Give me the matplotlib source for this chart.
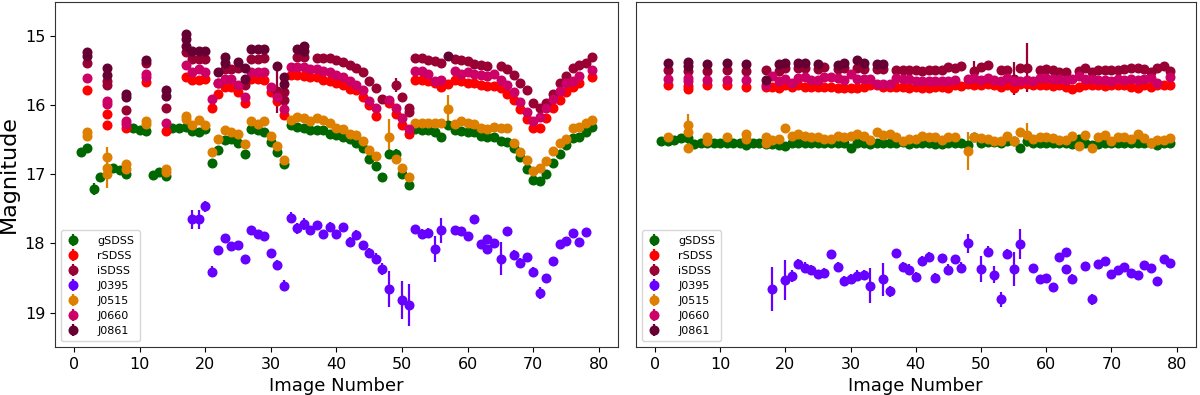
#!/usr/bin/env python3
"""Light curves of one star in seven filters, two fields side by side."""

import matplotlib
matplotlib.use("Agg")
import matplotlib.pyplot as plt

FILTERS = ["gSDSS", "rSDSS", "iSDSS", "J0395", "J0515", "J0660", "J0861"]
COLORS = ["#006600", "#ff0000", "#990033", "#6600ff", "#dd8000", "#cc0066", "#660033"]

# ---------------- left panel ----------------
L_G_X = [1, 2, 3, 4, 6, 7, 8, 9, 10, 11, 12, 13, 14, 15, 16, 17, 18, 19, 20, 21, 22, 23, 24, 25, 26, 27, 28, 29,
         30, 31, 32, 33, 34, 35, 36, 37, 38, 39, 40, 41, 42, 43, 44, 45, 46, 47, 48, 49, 50, 51, 52, 53, 54, 55,
         56, 57, 58, 59, 60, 61, 62, 63, 64, 65, 66, 67, 68, 69, 70, 71, 72, 73, 74, 75, 76, 77, 78, 79]
L_G_Y = [16.67, 16.61, 17.21, 17.03, 16.91, 16.94, 16.99, 16.33, 16.36, 16.37, 17.01, 16.97, 17.02, 16.33, 16.32,
         16.31, 16.37, 16.38, 16.34, 16.84, 16.64, 16.50, 16.48, 16.55, 16.70, 16.34, 16.36, 16.38, 16.53, 16.68,
         16.85, 16.29, 16.31, 16.32, 16.35, 16.35, 16.36, 16.41, 16.43, 16.46, 16.49, 16.55, 16.61, 16.78, 16.88,
         17.04, 16.70, 16.70, 17.00, 17.15, 16.34, 16.36, 16.36, 16.38, 16.46, 16.29, 16.36, 16.37, 16.38, 16.38,
         16.44, 16.46, 16.45, 16.52, 16.53, 16.61, 16.75, 16.92, 17.08, 17.09, 17.00, 16.83, 16.71, 16.57, 16.47,
         16.45, 16.38, 16.31]
L_G_BIG = {(3, 17.21): 0.09, (4, 17.03): 0.04, (49, 16.70): 0.07, (56, 16.46): 0.04, (57, 16.29): 0.04}

L_R_X = [2, 5, 5, 8, 11, 14, 17, 18, 19, 20, 21, 22, 23, 24, 25, 26, 27, 28, 29, 30, 31, 32, 33, 34, 35, 36, 37,
         38, 39, 40, 41, 42, 43, 44, 45, 46, 48, 49, 50, 51, 52, 53, 54, 55, 56, 57, 58, 59, 60, 61, 62, 63, 64,
         65, 66, 67, 68, 69, 70, 71, 72, 73, 74, 75, 76, 77, 79]
L_R_Y = [15.78, 16.13, 16.28, 16.32, 15.66, 16.37, 15.58, 15.63, 15.63, 15.62, 16.03, 15.84, 15.73, 15.73, 15.81,
         15.97, 15.62, 15.62, 15.63, 15.80, 15.93, 16.14, 15.56, 15.56, 15.57, 15.58, 15.59, 15.63, 15.64, 15.67,
         15.71, 15.76, 15.78, 15.88, 16.00, 16.15, 15.97, 16.12, 16.29, 16.42, 15.63, 15.63, 15.64, 15.68, 15.73,
         15.69, 15.63, 15.64, 15.67, 15.68, 15.70, 15.72, 15.72, 15.75, 15.84, 15.92, 16.05, 16.20, 16.33, 16.32,
         16.18, 16.04, 15.92, 15.80, 15.73, 15.67, 15.59]
L_R_BIG = {(31, 15.93): 0.05}

L_I_X = [2, 5, 5, 8, 11, 14, 17, 18, 19, 20, 22, 23, 24, 25, 26, 27, 28, 29, 31, 32, 32, 34, 35, 37, 38, 39, 40,
         41, 42, 43, 44, 45, 46, 47, 49, 50, 51, 51, 52, 53, 54, 55, 56, 58, 59, 60, 61, 62, 63, 65, 66, 67, 68,
         69, 70, 71, 72, 73, 74, 75, 76, 77, 78, 79]
L_I_Y = [15.39, 15.65, 15.71, 16.06, 15.39, 16.03, 15.23, 15.33, 15.32, 15.32, 15.67, 15.47, 15.47, 15.45, 15.71,
         15.32, 15.32, 15.31, 15.79, 15.81, 15.92, 15.30, 15.30, 15.31, 15.31, 15.31, 15.34, 15.37, 15.41, 15.45,
         15.52, 15.64, 15.75, 15.90, 15.70, 15.87, 16.04, 16.09, 15.31, 15.31, 15.34, 15.35, 15.39, 15.33, 15.34,
         15.36, 15.40, 15.41, 15.43, 15.43, 15.47, 15.56, 15.67, 15.78, 15.96, 16.03, 15.97, 15.84, 15.68, 15.57,
         15.45, 15.42, 15.38, 15.30]
L_I_BIG = {(31, 15.79): 0.32, (49, 15.70): 0.10, (17, 15.23): 0.03}

L_V_X = [18, 19, 20, 21, 22, 23, 24, 25, 26, 27, 28, 29, 30, 31, 32, 33, 34, 35, 36, 37, 38, 39, 40, 41, 42, 43,
         44, 45, 46, 47, 48, 50, 51, 52, 53, 54, 55, 56, 58, 59, 60, 61, 62, 63, 63, 64, 65, 66, 67, 68, 69, 70,
         71, 72, 73, 74, 75, 76, 77, 78]
L_V_Y = [17.65, 17.65, 17.46, 18.41, 18.10, 17.92, 18.03, 18.02, 18.22, 17.80, 17.86, 17.89, 18.14, 18.31, 18.61,
         17.63, 17.78, 17.72, 17.81, 17.73, 17.86, 17.76, 17.86, 17.76, 17.98, 17.87, 18.02, 18.14, 18.22, 18.37,
         18.66, 18.82, 18.89, 17.79, 17.86, 17.85, 18.08, 17.81, 17.80, 17.82, 17.89, 17.64, 18.01, 17.94, 18.08,
         18.00, 18.22, 17.82, 18.17, 18.28, 18.20, 18.41, 18.72, 18.50, 18.26, 18.01, 17.96, 17.85, 17.98, 17.83]
L_V_E = [0.14, 0.14, 0.08, 0.08, 0.06, 0.05, 0.04, 0.05, 0.05, 0.05, 0.05, 0.06, 0.05, 0.07, 0.08, 0.08, 0.08,
         0.09, 0.06, 0.06, 0.06, 0.07, 0.06, 0.06, 0.07, 0.07, 0.06, 0.07, 0.08, 0.09, 0.26, 0.28, 0.30, 0.06,
         0.07, 0.07, 0.19, 0.18, 0.04, 0.04, 0.04, 0.04, 0.05, 0.05, 0.05, 0.05, 0.24, 0.05, 0.07, 0.07, 0.06,
         0.07, 0.09, 0.06, 0.05, 0.04, 0.04, 0.04, 0.05, 0.04]

L_O_X = [2, 2, 5, 5, 5, 8, 8, 11, 11, 14, 14, 17, 17, 18, 19, 20, 21, 22, 23, 24, 25, 26, 27, 28, 29, 30, 31, 32,
         33, 34, 35, 36, 37, 38, 39, 40, 41, 42, 43, 44, 45, 46, 48, 49, 50, 51, 52, 53, 54, 55, 56, 57, 58, 59,
         60, 61, 62, 63, 64, 65, 66, 67, 68, 69, 70, 71, 72, 73, 74, 75, 76, 77, 78, 79]
L_O_Y = [16.39, 16.44, 16.74, 16.90, 16.99, 16.85, 16.92, 16.22, 16.27, 16.92, 16.96, 16.15, 16.20, 16.28, 16.21,
         16.29, 16.68, 16.49, 16.36, 16.39, 16.41, 16.56, 16.22, 16.27, 16.23, 16.44, 16.58, 16.79, 16.21, 16.17,
         16.18, 16.22, 16.18, 16.21, 16.25, 16.32, 16.34, 16.41, 16.43, 16.51, 16.65, 16.73, 16.46, 16.78, 16.90,
         17.04, 16.25, 16.25, 16.25, 16.25, 16.25, 16.05, 16.27, 16.23, 16.26, 16.27, 16.33, 16.34, 16.31, 16.33,
         16.33, 16.54, 16.68, 16.79, 16.95, 16.91, 16.80, 16.66, 16.55, 16.49, 16.33, 16.31, 16.26, 16.21]
L_O_BIG = {(5, 16.90): 0.30, (48, 16.46): 0.27, (57, 16.05): 0.20, (19, 16.21): 0.05,
           (53, 16.25): 0.03, (55, 16.25): 0.04, (56, 16.25): 0.04}

L_P_X = [2, 5, 5, 8, 8, 11, 11, 14, 17, 18, 19, 20, 21, 22, 23, 24, 25, 26, 27, 28, 29, 30, 31, 32, 33, 34, 35,
         36, 37, 38, 39, 40, 41, 42, 43, 44, 45, 46, 48, 49, 50, 51, 52, 53, 54, 55, 56, 58, 59, 60, 61, 62, 63,
         64, 65, 66, 67, 68, 69, 70, 71, 72, 73, 74, 75, 76, 77, 79]
L_P_Y = [15.60, 15.93, 15.98, 16.22, 16.27, 15.54, 15.58, 16.26, 15.42, 15.52, 15.47, 15.52, 15.90, 15.68, 15.62,
         15.62, 15.70, 15.88, 15.52, 15.51, 15.51, 15.73, 15.88, 16.05, 15.44, 15.44, 15.44, 15.47, 15.47, 15.50,
         15.51, 15.56, 15.59, 15.64, 15.70, 15.78, 15.94, 16.03, 15.92, 16.04, 16.18, 16.34, 15.50, 15.50, 15.54,
         15.64, 15.63, 15.50, 15.54, 15.51, 15.54, 15.56, 15.57, 15.55, 15.63, 15.70, 15.80, 15.95, 16.10, 16.23,
         16.17, 16.04, 15.91, 15.79, 15.68, 15.64, 15.57, 15.48]
L_P_BIG = {(30, 15.73): 0.04, (56, 15.63): 0.05, (5, 15.93): 0.03}

L_K_X = [2, 2, 5, 5, 8, 8, 11, 14, 14, 17, 17, 17, 18, 19, 20, 22, 23, 23, 25, 26, 26, 27, 28, 29, 31, 32, 32,
         34, 35, 35, 57]
L_K_Y = [15.23, 15.28, 15.45, 15.56, 15.84, 15.88, 15.34, 15.78, 15.86, 14.97, 15.04, 15.14, 15.21, 15.21, 15.21,
         15.51, 15.30, 15.38, 15.37, 15.46, 15.62, 15.18, 15.18, 15.18, 15.43, 15.58, 15.69, 15.18, 15.14, 15.21,
         15.29]
L_K_BIG = {(17, 14.97): 0.05, (57, 15.29): 0.03}

# ---------------- right panel ----------------
R_G_X = list(range(1, 80))
R_G_Y = [16.52, 16.52, 16.50, 16.47, 16.47, 16.56, 16.54, 16.54, 16.54, 16.54, 16.54, 16.54, 16.54, 16.57, 16.55,
         16.55, 16.56, 16.56, 16.57, 16.58, 16.54, 16.54, 16.54, 16.54, 16.55, 16.55, 16.55, 16.54, 16.54, 16.62,
         16.54, 16.54, 16.56, 16.55, 16.54, 16.55, 16.54, 16.53, 16.56, 16.55, 16.55, 16.55, 16.56, 16.56, 16.55,
         16.55, 16.55, 16.57, 16.46, 16.54, 16.53, 16.53, 16.54, 16.51, 16.51, 16.61, 16.52, 16.54, 16.54, 16.54,
         16.54, 16.55, 16.55, 16.56, 16.49, 16.55, 16.57, 16.56, 16.55, 16.55, 16.55, 16.54, 16.54, 16.55, 16.54,
         16.54, 16.57, 16.55, 16.54]
R_G_BIG = {(3, 16.50): 0.04, (4, 16.47): 0.02, (48, 16.57): 0.03, (49, 16.46): 0.04, (56, 16.61): 0.04,
           (77, 16.57): 0.03}

R_R_X = [2, 5, 5, 8, 11, 14, 17] + list(range(18, 80))
R_R_Y = [15.71, 15.72, 15.76, 15.71, 15.71, 15.73, 15.73, 15.73, 15.75, 15.71, 15.73, 15.71, 15.73, 15.73, 15.73,
         15.73, 15.73, 15.75, 15.75, 15.75, 15.74, 15.73, 15.71, 15.71, 15.73, 15.73, 15.73, 15.73, 15.74, 15.73,
         15.75, 15.75, 15.73, 15.73, 15.75, 15.71, 15.72, 15.69, 15.71, 15.71, 15.69, 15.70, 15.73, 15.71, 15.75,
         15.69, 15.69, 15.70, 15.70, 15.71, 15.72, 15.71, 15.73, 15.76, 15.73, 15.71, 15.71, 15.71, 15.72, 15.71,
         15.71, 15.71, 15.73, 15.75, 15.71, 15.73, 15.71, 15.71, 15.71]
R_R_BIG = {(5, 15.76): 0.05, (55, 15.75): 0.04, (19, 15.75): 0.03}

R_I_X = [2, 5, 8, 11, 14, 17, 19, 20, 22, 23, 25, 26, 28, 29, 31, 32, 34, 35, 37, 38, 39, 40, 41, 42, 43, 44, 45,
         46, 47, 49, 50, 51, 53, 54, 55, 56, 57, 59, 60, 61, 62, 63, 65, 66, 67, 68, 69, 70, 71, 72, 73, 74, 75,
         76, 77, 78, 79]
R_I_Y = [15.48, 15.50, 15.50, 15.49, 15.50, 15.49, 15.50, 15.45, 15.45, 15.45, 15.47, 15.44, 15.47, 15.45, 15.45,
         15.47, 15.47, 15.47, 15.48, 15.48, 15.48, 15.48, 15.50, 15.48, 15.48, 15.48, 15.44, 15.46, 15.43, 15.50,
         15.44, 15.42, 15.48, 15.48, 15.61, 15.46, 15.45, 15.48, 15.47, 15.48, 15.51, 15.51, 15.50, 15.46, 15.51,
         15.48, 15.48, 15.48, 15.48, 15.47, 15.46, 15.45, 15.47, 15.51, 15.46, 15.43, 15.50]
R_I_BIG = {(49, 15.50): 0.14, (55, 15.61): 0.24, (57, 15.45): 0.36}

R_V_X = [18, 20, 21, 22, 23, 24, 25, 26, 27, 28, 29, 30, 31, 32, 33, 35, 36, 37, 38, 39, 40, 41, 42, 43, 44, 45,
         46, 47, 48, 50, 51, 52, 53, 54, 55, 56, 58, 59, 60, 61, 62, 63, 63, 64, 66, 67, 68, 69, 70, 71, 72, 73,
         74, 75, 76, 77, 78, 79]
R_V_Y = [18.66, 18.53, 18.47, 18.29, 18.35, 18.38, 18.44, 18.43, 18.15, 18.34, 18.54, 18.51, 18.47, 18.46, 18.61,
         18.52, 18.69, 18.14, 18.34, 18.38, 18.48, 18.25, 18.20, 18.50, 18.21, 18.38, 18.23, 18.35, 18.00, 18.37,
         18.12, 18.45, 18.81, 18.15, 18.37, 18.01, 18.36, 18.51, 18.50, 18.63, 18.20, 18.12, 18.37, 18.51, 18.32,
         18.81, 18.29, 18.25, 18.44, 18.38, 18.34, 18.43, 18.46, 18.31, 18.36, 18.55, 18.23, 18.28]
R_V_E = [0.32, 0.29, 0.09, 0.07, 0.08, 0.07, 0.06, 0.07, 0.06, 0.07, 0.07, 0.07, 0.08, 0.07, 0.25, 0.24, 0.08,
         0.06, 0.07, 0.08, 0.07, 0.07, 0.07, 0.07, 0.06, 0.08, 0.07, 0.08, 0.14, 0.19, 0.08, 0.12, 0.11, 0.07,
         0.25, 0.22, 0.05, 0.06, 0.06, 0.06, 0.05, 0.04, 0.06, 0.07, 0.05, 0.08, 0.04, 0.04, 0.05, 0.04, 0.05,
         0.05, 0.05, 0.04, 0.04, 0.05, 0.05, 0.04]

R_O_X = [2, 5, 5, 5, 8, 8, 11, 14, 14, 17, 17, 18, 19, 20, 21, 22, 23, 24, 25, 26, 27, 28, 29, 30, 31, 32, 33, 34,
         35, 36, 37, 38, 39, 40, 41, 42, 43, 44, 45, 46, 48, 49, 50, 51, 52, 53, 54, 55, 56, 57, 58, 59, 60, 61,
         62, 63, 64, 65, 66, 67, 68, 69, 70, 71, 72, 73, 74, 75, 76, 77, 78, 79]
R_O_Y = [16.45, 16.28, 16.38, 16.62, 16.45, 16.51, 16.45, 16.42, 16.49, 16.45, 16.54, 16.50, 16.48, 16.32, 16.44,
         16.42, 16.44, 16.45, 16.46, 16.49, 16.48, 16.44, 16.45, 16.44, 16.42, 16.44, 16.50, 16.38, 16.43, 16.42,
         16.45, 16.51, 16.48, 16.49, 16.44, 16.46, 16.45, 16.50, 16.45, 16.45, 16.66, 16.46, 16.47, 16.48, 16.51,
         16.51, 16.44, 16.51, 16.39, 16.43, 16.49, 16.46, 16.46, 16.47, 16.50, 16.50, 16.44, 16.58, 16.43, 16.62,
         16.46, 16.43, 16.51, 16.46, 16.46, 16.49, 16.42, 16.47, 16.55, 16.50, 16.50, 16.47]
R_O_BIG = {(5, 16.38): 0.25, (48, 16.66): 0.27, (57, 16.43): 0.17, (55, 16.51): 0.05}

R_P_X = [2, 5, 5, 8, 11, 14, 17, 18, 19, 20, 21, 22, 23, 24, 25, 26, 27, 28, 29, 30, 31, 32, 33, 34, 35, 36, 37,
         38, 39, 40, 41, 42, 43, 44, 45, 46, 48, 49, 50, 51, 52, 53, 54, 55, 56, 57, 58, 59, 60, 61, 62, 63, 64,
         65, 66, 67, 68, 69, 70, 71, 72, 73, 74, 75, 76, 77, 79]
R_P_Y = [15.62, 15.60, 15.64, 15.63, 15.63, 15.63, 15.70, 15.57, 15.64, 15.62, 15.67, 15.60, 15.59, 15.63, 15.63,
         15.59, 15.59, 15.60, 15.63, 15.54, 15.62, 15.62, 15.62, 15.69, 15.69, 15.69, 15.60, 15.62, 15.62, 15.64,
         15.64, 15.65, 15.64, 15.64, 15.64, 15.63, 15.62, 15.60, 15.63, 15.60, 15.63, 15.64, 15.60, 15.64, 15.65,
         15.63, 15.65, 15.60, 15.60, 15.61, 15.62, 15.63, 15.62, 15.57, 15.61, 15.62, 15.63, 15.63, 15.64, 15.61,
         15.63, 15.61, 15.63, 15.61, 15.60, 15.67, 15.59]
R_P_BIG = {}

R_K_X = [2, 5, 5, 8, 11, 14, 17, 19, 20, 22, 23, 25, 28, 29, 31, 32, 34, 35]
R_K_Y = [15.39, 15.37, 15.43, 15.40, 15.39, 15.40, 15.63, 15.40, 15.38, 15.38, 15.38, 15.40, 15.41, 15.38, 15.34,
         15.38, 15.40, 15.40]
R_K_BIG = {(31, 15.34): 0.04}

SMALL_ERR = 0.012

LEFT = [
    (L_G_X, L_G_Y, L_G_BIG),
    (L_R_X, L_R_Y, L_R_BIG),
    (L_I_X, L_I_Y, L_I_BIG),
    (L_V_X, L_V_Y, L_V_E),
    (L_O_X, L_O_Y, L_O_BIG),
    (L_P_X, L_P_Y, L_P_BIG),
    (L_K_X, L_K_Y, L_K_BIG),
]
RIGHT = [
    (R_G_X, R_G_Y, R_G_BIG),
    (R_R_X, R_R_Y, R_R_BIG),
    (R_I_X, R_I_Y, R_I_BIG),
    (R_V_X, R_V_Y, R_V_E),
    (R_O_X, R_O_Y, R_O_BIG),
    (R_P_X, R_P_Y, R_P_BIG),
    (R_K_X, R_K_Y, R_K_BIG),
]


def errors(xs, ys, err):
    if isinstance(err, list):
        return err
    return [err.get((x, y), SMALL_ERR) for x, y in zip(xs, ys)]


def draw_panel(ax, series):
    for (xs, ys, err), name, color in zip(series, FILTERS, COLORS):
        ax.errorbar(xs, ys, yerr=errors(xs, ys, err), fmt="o", color=color, ms=6.2,
                    elinewidth=1.6, capsize=0, label=name)
    ax.set_ylim(19.5, 14.5)
    ax.set_xticks(range(0, 81, 10))
    ax.set_xlabel("Image Number", fontsize=13)
    ax.tick_params(labelsize=11.5)
    for sp in ax.spines.values():
        sp.set_color("#333333")
    ax.legend(loc="lower left", fontsize=8, handletextpad=1.6, borderpad=0.5,
              labelspacing=0.45, handlelength=1.2)


fig = plt.figure(figsize=(12, 3.95), dpi=100)
ax1 = fig.add_axes([0.0458, 0.1215, 0.4692, 0.8735])
ax2 = fig.add_axes([0.5300, 0.1215, 0.4663, 0.8735])

draw_panel(ax1, LEFT)
draw_panel(ax2, RIGHT)
ax1.set_ylabel("Magnitude", fontsize=16)
ax2.tick_params(left=False, labelleft=False)

fig.savefig("out.png", dpi=100, facecolor="white")
